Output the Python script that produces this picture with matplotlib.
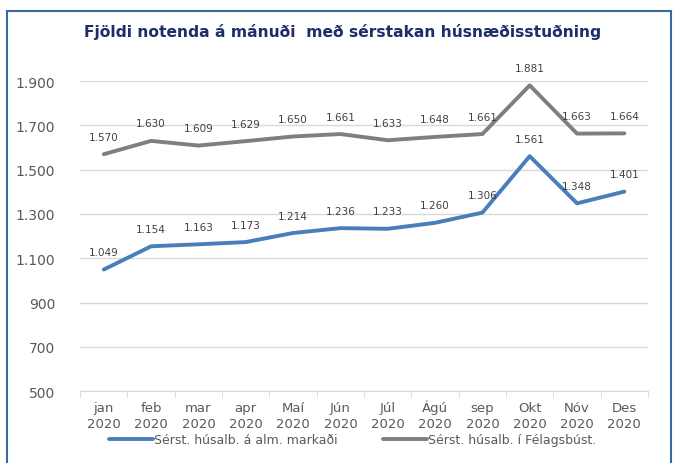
import matplotlib.pyplot as plt
from matplotlib.patches import Rectangle
from matplotlib.ticker import FuncFormatter

manudir = ["jan", "feb", "mar", "apr", "Maí", "Jún", "Júl", "Ágú", "sep", "Okt", "Nóv", "Des"]
ar = ["2020"] * 12
alm_markadur = [1049, 1154, 1163, 1173, 1214, 1236, 1233, 1260, 1306, 1561, 1348, 1401]
felagsbust = [1570, 1630, 1609, 1629, 1650, 1661, 1633, 1648, 1661, 1881, 1663, 1664]


def fmt(v):
    return f"{int(v):,}".replace(",", ".")


fig = plt.figure(figsize=(6.85, 4.64), dpi=100)
ax = fig.add_axes([0.117, 0.155, 0.829, 0.668])

x = range(len(manudir))
ax.plot(x, alm_markadur, color="#4a7ebb", lw=2.8, label="Sérst. húsalb. á alm. markaði",
        solid_capstyle="round")
ax.plot(x, felagsbust, color="#7f7f7f", lw=2.8, label="Sérst. húsalb. í Félagsbúst.",
        solid_capstyle="round")

for xi, v in zip(x, alm_markadur):
    ax.annotate(fmt(v), (xi, v), xytext=(0, 9), textcoords="offset points",
                ha="center", va="bottom", fontsize=7.5, color="#404040")
for xi, v in zip(x, felagsbust):
    ax.annotate(fmt(v), (xi, v), xytext=(0, 9), textcoords="offset points",
                ha="center", va="bottom", fontsize=7.5, color="#404040")

ax.set_xlim(-0.5, 11.5)
ax.set_ylim(500, 1900)
ax.set_yticks(range(500, 1901, 200))
ax.yaxis.set_major_formatter(FuncFormatter(lambda v, p: fmt(v)))
ax.set_xticks(list(x))
ax.set_xticklabels(manudir)
for lbl in ax.get_xticklabels():
    lbl.set_va("baseline")
for xi, a in zip(x, ar):
    ax.annotate(a, (xi, 0), xycoords=("data", "axes fraction"), xytext=(0, -26),
                textcoords="offset points", ha="center", va="baseline",
                fontsize=9.5, color="#595959")
ax.set_xticks([i + 0.5 for i in range(-1, 12)], minor=True)
ax.tick_params(axis="x", which="major", length=0, labelsize=9.5, labelcolor="#595959", pad=14)
ax.tick_params(axis="x", which="minor", length=4, color="#d9d9d9")
ax.tick_params(axis="y", length=0, labelsize=10, labelcolor="#595959", pad=18)
ax.grid(axis="y", color="#d9d9d9", lw=1)
ax.set_axisbelow(True)
for s in ["top", "right", "left"]:
    ax.spines[s].set_visible(False)
ax.spines["bottom"].set_color("#d9d9d9")

fig.text(0.5, 0.93, "Fjöldi notenda á mánuði  með sérstakan húsnæðisstuðning",
         ha="center", va="center", fontsize=11.2, fontweight="bold", color="#1f2d6b")

fig.legend(loc="center", bbox_to_anchor=(0.515, 0.05), ncol=2, frameon=False,
           fontsize=9, labelcolor="#595959", handlelength=3.5, handletextpad=0.1,
           columnspacing=3.6)

fig.patches.append(Rectangle((7 / 685, -0.05), 664 / 685, 1 - 12 / 464 + 0.05,
                             transform=fig.transFigure, fill=False,
                             edgecolor="#3a6aa0", lw=1.5))

fig.savefig("out.png", dpi=100)
